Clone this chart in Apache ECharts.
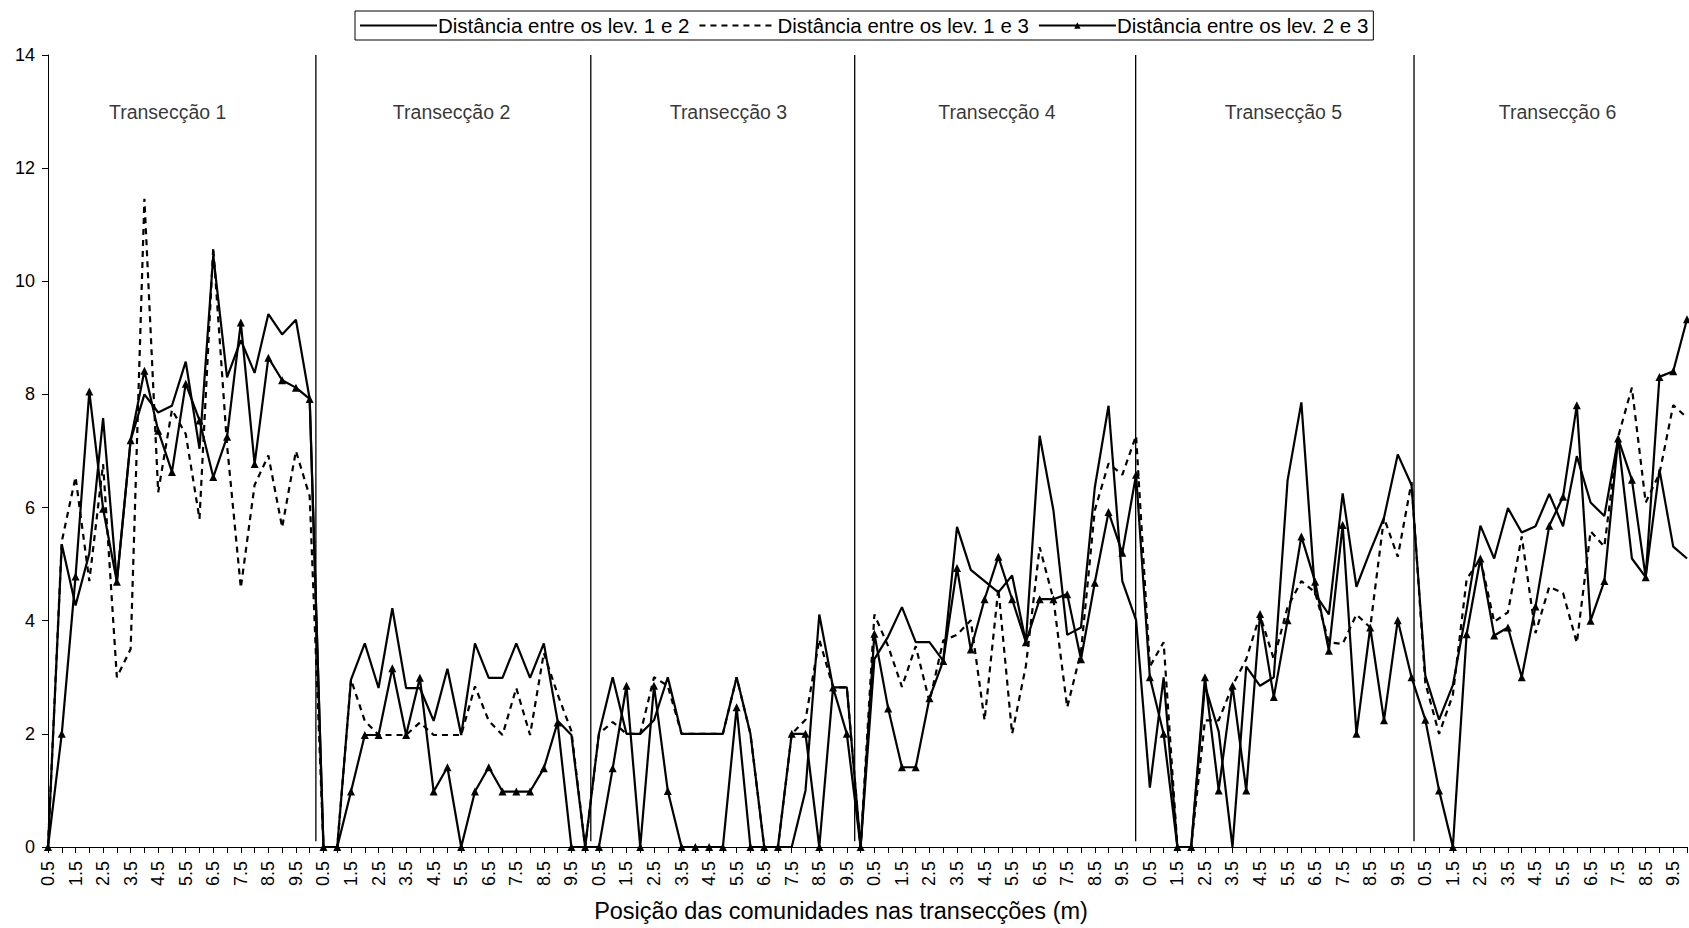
<!DOCTYPE html>
<html>
<head>
<meta charset="utf-8">
<script src="https://cdn.jsdelivr.net/npm/echarts@6/dist/echarts.min.js"></script>
<style>
  html, body { margin: 0; padding: 0; background: #fff; }
  #chart { width: 1689px; height: 928px; }
</style>
</head>
<body>
<div id="chart"></div>
<script>
// Positions along each transect (m), repeated for the six transects
const positions = ['0.5','1','1.5','2','2.5','3','3.5','4','4.5','5','5.5','6','6.5','7','7.5','8','8.5','9','9.5','10'];
const transectCount = 6;

// Distance between surveys 1 and 2, per transect
const dist12 = [
  0, 5.35, 4.27, 5.19, 7.58, 4.69, 7.19, 8.0, 7.68, 7.8, 8.58, 7.04, 10.46, 8.3, 8.96, 8.38, 9.42, 9.06, 9.32, 7.92,
  0, 0, 2.96, 3.6, 2.81, 4.22, 2.81, 2.81, 2.23, 3.15, 1.98, 3.6, 2.99, 2.99, 3.6, 2.99, 3.6, 2.23, 1.98, 0,
  2.0, 3.0, 2.0, 2.0, 2.24, 3.0, 2.0, 2.0, 2.0, 2.0, 3.0, 2.0, 0, 0, 0, 1.0, 4.11, 2.82, 2.82, 0,
  3.32, 3.72, 4.24, 3.62, 3.62, 3.29, 5.66, 4.9, 4.7, 4.5, 4.8, 3.62, 7.27, 5.95, 3.75, 3.88, 6.35, 7.8, 4.7, 4.01,
  1.05, 3.0, 0, 0, 2.86, 2.04, 0, 3.19, 2.85, 3.0, 6.48, 7.86, 4.47, 4.11, 6.25, 4.6, 5.23, 5.82, 6.94, 6.4,
  3.03, 2.25, 2.86, 4.2, 5.68, 5.1, 5.99, 5.56, 5.67, 6.24, 5.67, 6.91, 6.09, 5.85, 7.22, 5.1, 4.77, 6.67, 5.31, 5.1
];

// Distance between surveys 1 and 3
const dist13 = [
  0, 5.4, 6.54, 4.7, 6.77, 3.0, 3.5, 11.46, 6.27, 7.73, 7.3, 5.8, 10.6, 7.1, 4.58, 6.4, 6.92, 5.65, 7.0, 6.2,
  0, 0, 2.96, 2.23, 1.98, 1.98, 1.98, 2.2, 1.98, 1.98, 1.98, 2.84, 2.23, 1.98, 2.81, 1.98, 3.43, 2.7, 2.05, 0,
  2.0, 2.21, 2.0, 2.0, 3.0, 2.85, 2.0, 2.0, 2.0, 2.0, 3.0, 2.0, 0, 0, 2.0, 2.25, 3.67, 2.82, 2.82, 0,
  4.11, 3.55, 2.83, 3.55, 2.57, 3.65, 3.75, 4.01, 2.24, 4.57, 2.0, 3.2, 5.3, 4.38, 2.47, 3.45, 5.95, 6.78, 6.58, 7.27,
  3.19, 3.62, 0, 0, 2.24, 2.24, 2.85, 3.32, 4.1, 3.32, 4.24, 4.7, 4.5, 3.62, 3.59, 4.11, 3.88, 5.82, 5.13, 6.45,
  2.9, 2.0, 2.69, 4.73, 5.1, 3.98, 4.15, 5.49, 3.78, 4.6, 4.49, 3.61, 5.58, 5.31, 7.25, 8.12, 6.09, 6.6, 7.81, 7.59
];

// Distance between surveys 2 and 3
const dist23 = [
  0, 2.0, 4.78, 8.05, 5.98, 4.69, 7.19, 8.42, 7.36, 6.63, 8.19, 7.54, 6.54, 7.25, 9.27, 6.77, 8.65, 8.25, 8.12, 7.92,
  0, 0, 0.98, 1.98, 1.98, 3.16, 1.98, 2.99, 0.98, 1.41, 0, 0.98, 1.41, 0.98, 0.98, 0.98, 1.39, 2.2, 0, 0,
  0, 1.39, 2.85, 0, 2.85, 0.99, 0, 0, 0, 0, 2.47, 0, 0, 0, 2.0, 2.0, 0, 2.82, 2.0, 0,
  3.77, 2.45, 1.41, 1.41, 2.63, 3.29, 4.93, 3.49, 4.38, 5.13, 4.38, 3.62, 4.38, 4.38, 4.47, 3.32, 4.67, 5.92, 5.2, 6.58,
  3.0, 2.0, 0, 0, 3.0, 1.0, 2.85, 1.0, 4.12, 2.65, 4.01, 5.49, 4.69, 3.47, 5.69, 2.0, 3.88, 2.24, 4.01, 3.0,
  2.25, 1.0, 0, 3.76, 5.1, 3.74, 3.88, 3.0, 4.25, 5.68, 6.19, 7.81, 4.0, 4.7, 7.22, 6.49, 4.77, 8.31, 8.41, 9.33
];

const seriesNames = ['Distância entre os lev. 1 e 2', 'Distância entre os lev. 1 e 3', 'Distância entre os lev. 2 e 3'];
const transectNames = ['Transecção 1', 'Transecção 2', 'Transecção 3', 'Transecção 4', 'Transecção 5', 'Transecção 6'];
// Divider lines between transects and label anchors, in point-index units along the x axis
const transectBreaks = [19.45, 39.41, 58.57, 78.97, 99.18];
const transectLabelX = [8.69, 29.3, 49.4, 68.9, 89.7, 109.6];
const transectLabelY = 13;
const yTicks = { min: 0, max: 14, interval: 2 };

const categories = [];
for (let t = 0; t < transectCount; t++) categories.push(...positions);
const lastIndex = categories.length - 1;

const FONT = '"Liberation Sans", Arial, sans-serif';

const chart = echarts.init(document.getElementById('chart'), null, { renderer: 'svg' });

const dividerSeries = transectBreaks.map((x, i) => ({
  name: 'divider' + i,
  type: 'line',
  xAxisIndex: 1,
  data: [[x, 0.1], [x, yTicks.max]],
  symbol: 'none',
  silent: true,
  lineStyle: { color: '#000', width: 1.3 },
  z: 1
}));

chart.setOption({
  animation: false,
  backgroundColor: '#fff',
  textStyle: { fontFamily: FONT, color: '#000' },
  grid: { left: 48, right: 2, top: 55, bottom: 75 },
  legend: {
    // plain line icons for the first two series, line + triangle for the third
    data: [
      { name: seriesNames[0], itemStyle: { opacity: 0 } },
      { name: seriesNames[1], itemStyle: { opacity: 0 } },
      { name: seriesNames[2] }
    ],
    left: 355,
    top: 11,
    padding: [4, 5, 4, 4],
    itemGap: 9,
    itemWidth: 77,
    itemHeight: 8,
    borderColor: '#000',
    borderWidth: 1,
    textStyle: { fontFamily: FONT, fontSize: 20.5, color: '#000', padding: [0, 0, 0, -4] }
  },
  xAxis: [
    {
      type: 'category',
      data: categories,
      boundaryGap: false,
      axisLine: { lineStyle: { color: '#000', width: 1 } },
      axisTick: { interval: 0, length: 6, lineStyle: { color: '#000' } },
      axisLabel: {
        interval: 1,
        rotate: 90,
        margin: 14,
        fontFamily: FONT,
        fontSize: 18,
        color: '#000'
      },
      splitLine: { show: false },
      name: 'Posição das comunidades nas transecções (m)',
      nameLocation: 'middle',
      nameGap: 52,
      nameTextStyle: { fontFamily: FONT, fontSize: 23.5, color: '#000', padding: [0, 53, 0, 0] }
    },
    {
      type: 'value',
      min: 0,
      max: lastIndex,
      show: false
    }
  ],
  yAxis: {
    type: 'value',
    min: yTicks.min,
    max: yTicks.max,
    interval: yTicks.interval,
    axisLine: { show: true, lineStyle: { color: '#000', width: 1 } },
    axisTick: { show: true, length: 6, lineStyle: { color: '#000' } },
    axisLabel: { fontFamily: FONT, fontSize: 18, color: '#000', margin: 13 },
    splitLine: { show: false }
  },
  series: [
    ...dividerSeries,
    {
      name: 'transect labels',
      type: 'scatter',
      xAxisIndex: 1,
      symbolSize: 0,
      silent: true,
      data: transectNames.map((n, i) => ({ name: n, value: [transectLabelX[i], transectLabelY] })),
      label: {
        show: true,
        position: 'inside',
        formatter: p => p.name,
        fontFamily: FONT,
        fontSize: 19.5,
        color: '#000'
      }
    },
    {
      name: seriesNames[1],
      type: 'line',
      data: dist13,
      symbol: 'none',
      lineStyle: { color: '#000', width: 2.2, type: [6, 5] },
      itemStyle: { color: '#000' },
      z: 3
    },
    {
      name: seriesNames[0],
      type: 'line',
      data: dist12,
      symbol: 'none',
      lineStyle: { color: '#000', width: 2.2 },
      itemStyle: { color: '#000' },
      z: 4
    },
    {
      name: seriesNames[2],
      type: 'line',
      data: dist23,
      symbol: 'triangle',
      symbolSize: 8,
      showAllSymbol: true,
      lineStyle: { color: '#000', width: 2.2 },
      itemStyle: { color: '#000' },
      z: 5
    }
  ]
});
</script>
</body>
</html>
